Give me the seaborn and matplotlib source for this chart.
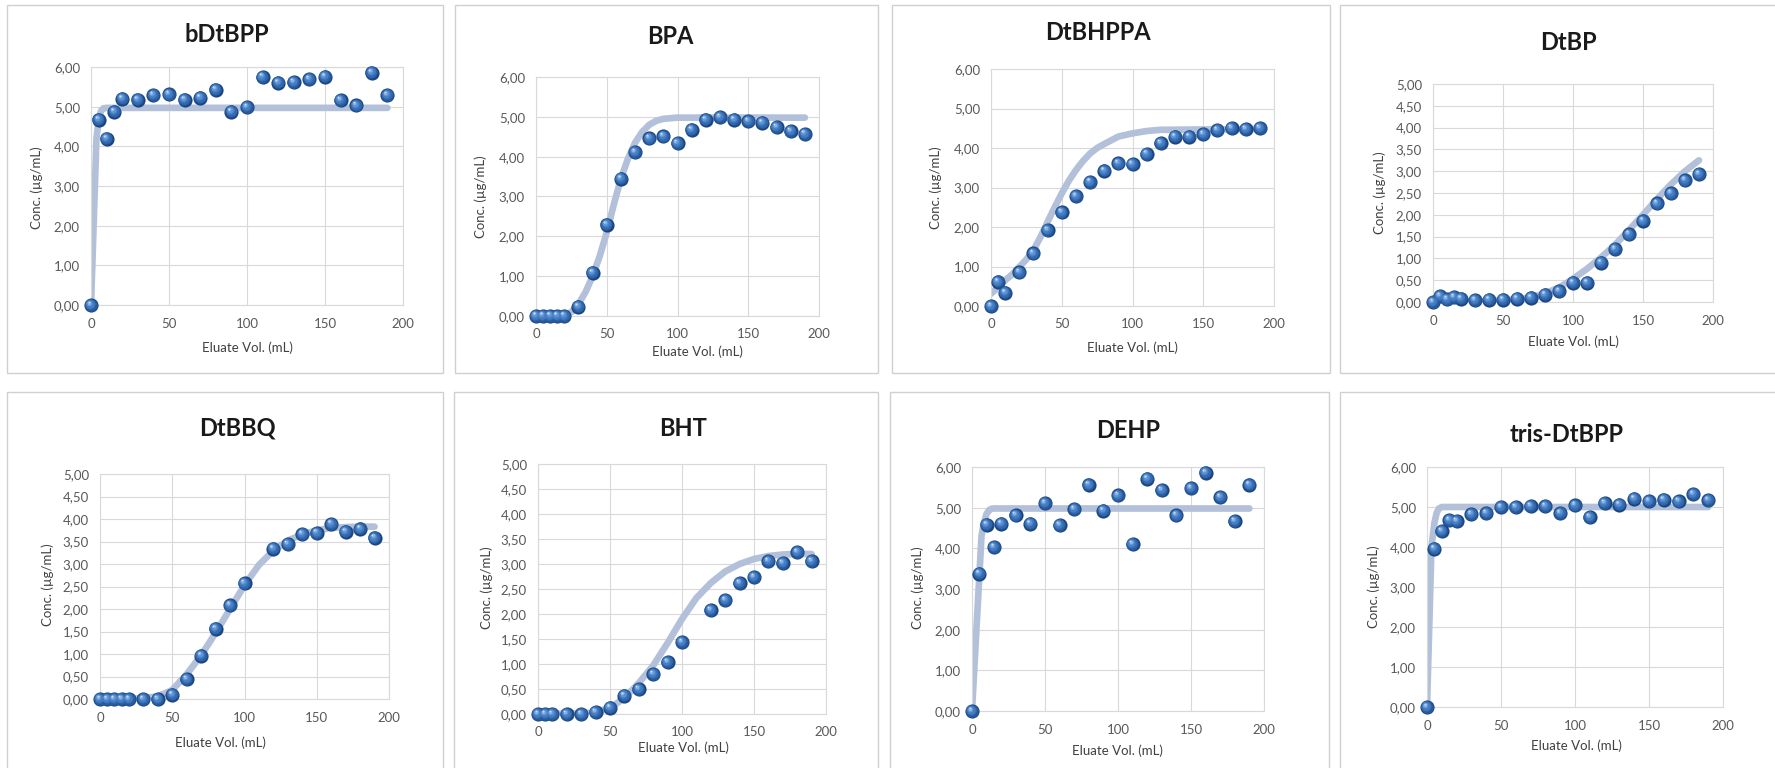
import matplotlib
matplotlib.use("Agg")
import matplotlib.pyplot as plt
import matplotlib.patches as mpatches
import matplotlib.transforms as mtransforms
from matplotlib.ticker import FuncFormatter, MultipleLocator
import pandas as pd
import seaborn as sns

# ---------------------------------------------------------------------------
# Breakthrough data: eluate volume (mL) vs. concentration (µg/mL)
# ---------------------------------------------------------------------------
vol_22 = [0, 5, 10, 15, 20, 30, 40, 50, 60, 70, 80, 90, 100,
          110, 120, 130, 140, 150, 160, 170, 180, 190]
vol_dtbhppa = [0, 5, 10, 20, 30, 40, 50, 60, 70, 80, 90, 100,
               110, 120, 130, 140, 150, 160, 170, 180, 190]
vol_dtbbq = [0, 5, 10, 15, 20, 30, 40, 50, 60, 70, 80, 90, 100,
             120, 130, 140, 150, 160, 170, 180, 190]
vol_bht = [0, 5, 10, 20, 30, 40, 50, 60, 70, 80, 90, 100,
           120, 130, 140, 150, 160, 170, 180, 190]

conc_bdtbpp = [0.00, 4.67, 4.19, 4.87, 5.20, 5.18, 5.29, 5.31, 5.18, 5.23, 5.43,
               4.87, 4.99, 5.75, 5.60, 5.62, 5.69, 5.76, 5.16, 5.03, 5.86, 5.29]
conc_bpa = [0.00, 0.00, 0.00, 0.00, 0.00, 0.23, 1.09, 2.29, 3.45, 4.11, 4.46,
            4.51, 4.34, 4.68, 4.93, 4.99, 4.93, 4.89, 4.85, 4.74, 4.64, 4.57]
conc_dtbhppa = [0.00, 0.61, 0.34, 0.85, 1.33, 1.92, 2.37, 2.78, 3.14, 3.42, 3.61,
                3.59, 3.85, 4.12, 4.29, 4.29, 4.35, 4.45, 4.50, 4.48, 4.50]
conc_dtbp = [0.00, 0.13, 0.06, 0.11, 0.08, 0.04, 0.05, 0.05, 0.08, 0.10, 0.17,
             0.25, 0.44, 0.44, 0.90, 1.21, 1.55, 1.86, 2.26, 2.49, 2.79, 2.93]
conc_dtbbq = [0.00, 0.00, 0.00, 0.00, 0.00, 0.00, 0.00, 0.10, 0.44, 0.96, 1.56,
              2.08, 2.57, 3.34, 3.44, 3.66, 3.69, 3.89, 3.72, 3.78, 3.58]
conc_bht = [0.00, 0.00, 0.00, 0.00, 0.00, 0.04, 0.13, 0.37, 0.50, 0.80, 1.04,
            1.44, 2.08, 2.28, 2.62, 2.74, 3.06, 3.02, 3.24, 3.06]
conc_dehp = [0.00, 3.38, 4.58, 4.03, 4.61, 4.81, 4.61, 5.11, 4.57, 4.96, 5.56,
             4.93, 5.30, 4.10, 5.71, 5.43, 4.81, 5.48, 5.86, 5.26, 4.67, 5.56]
conc_tris = [0.00, 3.96, 4.40, 4.67, 4.65, 4.82, 4.85, 5.00, 5.00, 5.02, 5.02,
             4.85, 5.04, 4.75, 5.10, 5.06, 5.21, 5.15, 5.18, 5.14, 5.32, 5.17]

# Fitted breakthrough curves
fitx_bdtbpp = [0, 3.5, 5, 6.5, 8, 10, 190]
fity_bdtbpp = [0, 4.2, 4.7, 4.9, 4.96, 4.97, 4.97]
fitx_bpa = [0, 20, 25, 30, 35, 40, 45, 50, 55, 60, 65, 70, 75, 80, 85, 90, 100, 190]
fity_bpa = [0, 0.02, 0.1, 0.3, 0.6, 1.0, 1.5, 2.1, 2.8, 3.45, 3.95, 4.35, 4.62,
            4.8, 4.9, 4.95, 4.98, 4.98]
fitx_dtbhppa = [0, 5, 10, 15, 20, 25, 30, 35, 40, 45, 50, 55, 60, 65, 70, 75, 80,
                90, 100, 110, 120, 190]
fity_dtbhppa = [0.31, 0.47, 0.65, 0.8, 0.99, 1.18, 1.41, 1.75, 2.13, 2.5, 2.85,
                3.17, 3.44, 3.67, 3.86, 4.0, 4.1, 4.29, 4.37, 4.43, 4.46, 4.48]
fitx_dtbp = [0, 20, 40, 50, 60, 70, 80, 90, 100, 110, 120, 130, 140, 150, 160,
             170, 180, 190]
fity_dtbp = [0, 0.01, 0.02, 0.04, 0.06, 0.1, 0.2, 0.33, 0.53, 0.76, 1.02, 1.31,
             1.65, 2.0, 2.36, 2.7, 3.0, 3.25]
fitx_dtbbq = [0, 20, 30, 40, 50, 60, 70, 80, 90, 100, 110, 120, 130, 140, 150,
              160, 170, 180, 190]
fity_dtbbq = [0, 0, 0.02, 0.06, 0.2, 0.55, 0.97, 1.47, 2.0, 2.53, 2.98, 3.3,
              3.52, 3.66, 3.75, 3.8, 3.82, 3.83, 3.83]
fitx_bht = [0, 30, 40, 50, 60, 70, 80, 90, 100, 110, 120, 130, 140, 150, 160,
            170, 180, 190]
fity_bht = [0, 0.01, 0.04, 0.12, 0.32, 0.62, 0.97, 1.42, 1.9, 2.32, 2.62, 2.85,
            3.0, 3.1, 3.16, 3.19, 3.2, 3.2]
fitx_dehp = [0, 6.5, 8, 10, 12, 14, 190]
fity_dehp = [0, 4.3, 4.6, 4.85, 4.95, 4.98, 4.98]
fitx_tris = [0, 3, 5, 6.5, 8, 10, 190]
fity_tris = [0, 4.0, 4.6, 4.85, 4.96, 5.0, 5.0]

names = ["bDtBPP", "BPA", "DtBHPPA", "DtBP", "DtBBQ", "BHT", "DEHP", "tris-DtBPP"]
volumes = [vol_22, vol_22, vol_dtbhppa, vol_22, vol_dtbbq, vol_bht, vol_22, vol_22]
concs = [conc_bdtbpp, conc_bpa, conc_dtbhppa, conc_dtbp,
         conc_dtbbq, conc_bht, conc_dehp, conc_tris]
fit_xs = [fitx_bdtbpp, fitx_bpa, fitx_dtbhppa, fitx_dtbp,
          fitx_dtbbq, fitx_bht, fitx_dehp, fitx_tris]
fit_ys = [fity_bdtbpp, fity_bpa, fity_dtbhppa, fity_dtbp,
          fity_dtbbq, fity_bht, fity_dehp, fity_tris]
y_max = [6, 6, 6, 5, 5, 5, 6, 6]

# ---------------------------------------------------------------------------
# Layout (pixel positions on a 1775 x 768 canvas)
# ---------------------------------------------------------------------------
W, H = 1775, 768
frames = [(7, 5, 443, 373), (455, 5, 878, 373), (892, 5, 1330, 373), (1340, 5, 1790, 373),
          (7, 392, 443, 790), (454, 392, 878, 790), (890, 392, 1329, 790), (1340, 392, 1790, 790)]
plot_boxes = [(91, 67, 403, 305), (536, 77, 819, 316), (991, 69, 1274, 306),
              (1433, 84, 1713, 302), (100, 474, 389, 699), (538, 464, 826, 714),
              (972, 467, 1264, 711), (1427, 467, 1723, 707)]
title_pos = [(227, 35), (670, 37), (1098, 33), (1568, 42),
             (237, 428), (683, 428), (1128, 430), (1567, 435)]
xlabel_pos = [(247, 348), (697, 352), (1132, 348), (1573, 342),
              (220, 743), (683, 748), (1117, 751), (1576, 746)]
ylabel_pos = [(37, 188), (481, 197), (936, 188), (1380, 193),
              (48, 585), (487, 588), (918, 588), (1374, 587)]

FIT_COLOR = "#B3C0DA"
GRID_COLOR = "#D9D9D9"
TICK_COLOR = "#595959"

sns.set_theme(style="white")
plt.rcParams["font.family"] = ["Lato", "DejaVu Sans"]

fig = plt.figure(figsize=(W / 100, H / 100), dpi=100)
fig.patch.set_facecolor("white")


def fx(px):
    return px / W


def fy(py):
    return 1 - py / H


def comma_fmt(v, _pos):
    return f"{v:.2f}".replace(".", ",")


# layers that give each marker a glossy sphere look: (diameter pt, colour, dx, dy)
sphere_layers = [
    (10.2, "#1B457F", 0.0, 0.0),
    (9.0, "#265A9C", -0.25, 0.3),
    (7.6, "#3369B0", -0.5, 0.6),
    (6.0, "#457DC3", -0.85, 1.0),
    (4.2, "#5E93D3", -1.15, 1.4),
    (2.6, "#8AB3E5", -1.45, 1.8),
    (1.2, "#D0E1F5", -1.7, 2.15),
]

for i in range(8):
    x0, y0, x1, y1 = frames[i]
    fig.patches.append(mpatches.Rectangle(
        (fx(x0), fy(y1)), (x1 - x0) / W, (y1 - y0) / H,
        transform=fig.transFigure, fill=False, edgecolor="#D0D0D0", lw=1.0))

    l, t, r, b = plot_boxes[i]
    ax = fig.add_axes([fx(l), fy(b), (r - l) / W, (b - t) / H])

    fit_df = pd.DataFrame({"vol": fit_xs[i], "conc": fit_ys[i]})
    pts_df = pd.DataFrame({"vol": volumes[i], "conc": concs[i]})

    sns.lineplot(data=fit_df, x="vol", y="conc", ax=ax, color=FIT_COLOR,
                 lw=4.8, estimator=None, sort=False, zorder=2,
                 solid_capstyle="round", solid_joinstyle="round")

    for k, (d, col, dx, dy) in enumerate(sphere_layers):
        if k == 0:
            sns.scatterplot(data=pts_df, x="vol", y="conc", ax=ax, s=d * d,
                            color=col, linewidth=0, zorder=3 + k, clip_on=False)
        else:
            tr = mtransforms.offset_copy(ax.transData, fig=fig, x=dx, y=dy,
                                         units="points")
            ax.scatter(pts_df["vol"], pts_df["conc"], s=d * d, color=col,
                       linewidths=0, zorder=3 + k, clip_on=False, transform=tr)

    ax.set_xlim(0, 200)
    ax.set_ylim(0, y_max[i])
    ax.xaxis.set_major_locator(MultipleLocator(50))
    ax.yaxis.set_major_locator(MultipleLocator(1.0 if y_max[i] == 6 else 0.5))
    ax.yaxis.set_major_formatter(FuncFormatter(comma_fmt))
    ax.tick_params(axis="both", length=0, labelsize=9.5, colors=TICK_COLOR)
    ax.tick_params(axis="x", pad=9)
    ax.tick_params(axis="y", pad=8)
    ax.grid(True, color=GRID_COLOR, lw=0.8, zorder=0)
    ax.set_axisbelow(True)
    for sp in ax.spines.values():
        sp.set_color(GRID_COLOR)
        sp.set_linewidth(0.8)
    ax.set_facecolor("white")

    ax.set_xlabel("Eluate Vol. (mL)", fontsize=9.5, color="#404040")
    ax.set_ylabel("Conc. (µg/mL)", fontsize=9.5, color="#404040")
    ax.xaxis.label.set_va("center")
    ax.yaxis.label.set_va("center")
    ax.xaxis.set_label_coords(fx(xlabel_pos[i][0]), fy(xlabel_pos[i][1]),
                              transform=fig.transFigure)
    ax.yaxis.set_label_coords(fx(ylabel_pos[i][0]), fy(ylabel_pos[i][1]),
                              transform=fig.transFigure)

    fig.text(fx(title_pos[i][0]), fy(title_pos[i][1]), names[i],
             ha="center", va="center", fontsize=17, fontweight="bold",
             color="#1A1A1A")

fig.savefig("out.png", dpi=100, facecolor="white")
